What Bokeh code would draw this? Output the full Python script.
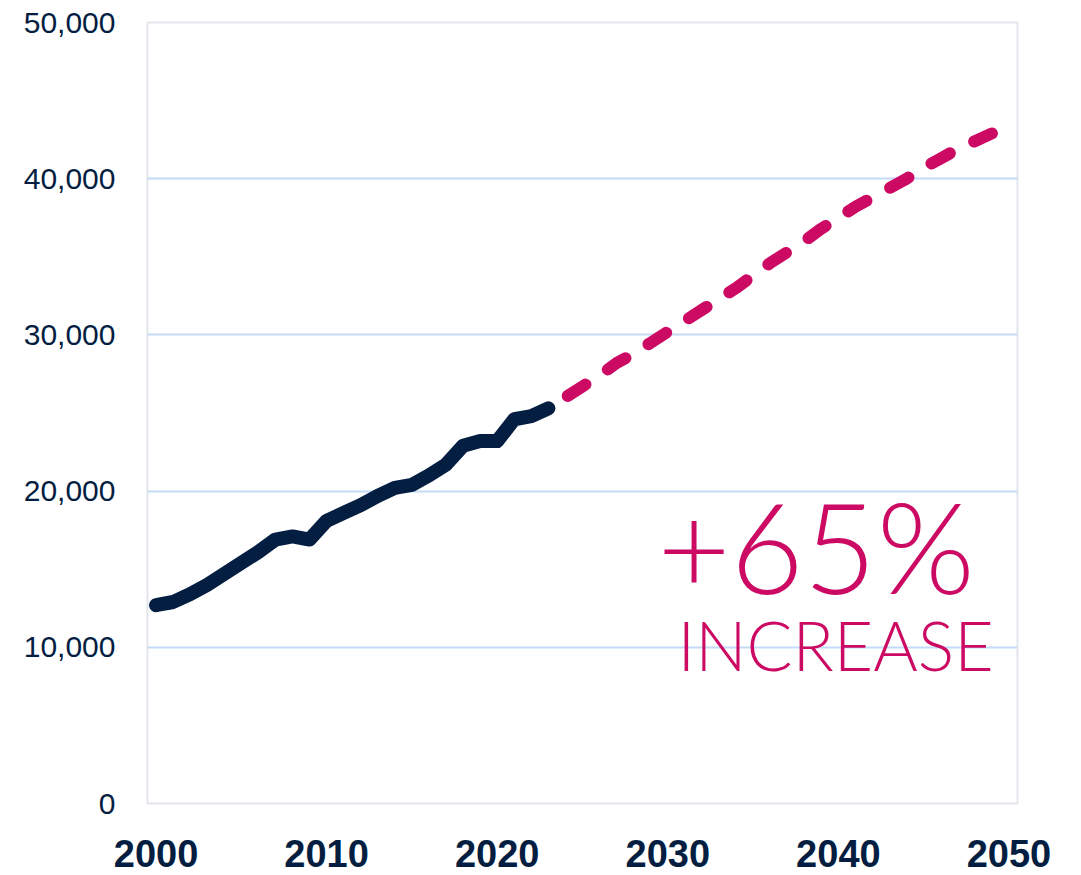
from bokeh.plotting import figure
from bokeh.models import FixedTicker, NumeralTickFormatter, Range1d, Label
from bokeh.embed import file_html
from bokeh.resources import INLINE

# Historical series (2000-2023)
hist_years = list(range(2000, 2024))
hist_values = [12700, 12900, 13400, 14000, 14700, 15400, 16100, 16900, 17100, 16900,
               18100, 18600, 19100, 19700, 20200, 20400, 21000, 21700, 22900, 23200,
               23200, 24600, 24800, 25300]

# Projection (2023-2049)
proj_years = list(range(2023, 2050))
proj_values = [25300, 26000, 26700, 27400, 28200, 28800, 29500, 30200, 30900, 31600,
               32300, 33000, 33800, 34600, 35300, 36000, 36800, 37500, 38200, 38800,
               39400, 40000, 40700, 41300, 41900, 42400, 42900]

x_ticks = [2000, 2010, 2020, 2030, 2040, 2050]
y_ticks = [0, 10000, 20000, 30000, 40000, 50000]

big_label = "+65%"
small_label = "INCREASE"

NAVY = "#041E42"
MAGENTA = "#CC0A64"

p = figure(width=1065, height=875, output_backend="svg", toolbar_location=None,
           x_range=Range1d(1999.5, 2050.5), y_range=Range1d(0, 50000))
p.min_border_left = 147
p.min_border_top = 22
p.min_border_right = 48
p.min_border_bottom = 72

p.outline_line_color = "#E3E6EB"
p.outline_line_width = 2
p.background_fill_color = "white"
p.border_fill_color = "white"

p.xgrid.grid_line_color = None
p.ygrid.grid_line_color = "#C3DBF7"
p.ygrid.grid_line_width = 2
p.ygrid.ticker = FixedTicker(ticks=y_ticks)

p.xaxis.ticker = FixedTicker(ticks=x_ticks)
p.yaxis.ticker = FixedTicker(ticks=y_ticks)
p.yaxis.formatter = NumeralTickFormatter(format="0,0")
for ax in (p.xaxis[0], p.yaxis[0]):
    ax.axis_line_color = None
    ax.major_tick_line_color = None
    ax.minor_tick_line_color = None
    ax.major_label_text_color = NAVY

p.yaxis.major_label_text_font = "Liberation Sans"
p.yaxis.major_label_text_font_size = "30px"
p.yaxis.major_label_standoff = 26

p.xaxis.major_label_text_font = "Liberation Sans"
p.xaxis.major_label_text_font_style = "bold"
p.xaxis.major_label_text_font_size = "38px"
p.xaxis.major_label_standoff = 30

p.line(proj_years, proj_values, line_color=MAGENTA, line_width=12,
       line_dash="21 27", line_dash_offset=25, line_cap="round", line_join="round")
p.line(hist_years, hist_values, line_color=NAVY, line_width=14,
       line_cap="round", line_join="round")

p.add_layout(Label(x=2048.0, y=16500, text=big_label, text_align="right",
                   text_baseline="alphabetic", text_color=MAGENTA,
                   text_font="Lato Light", text_font_size="126px"))
p.add_layout(Label(x=2049.1, y=10200, text=small_label, text_align="right",
                   text_baseline="alphabetic", text_color=MAGENTA,
                   text_font="Lato Light", text_font_size="68px"))

open("out.html", "w").write(file_html(p, INLINE))
